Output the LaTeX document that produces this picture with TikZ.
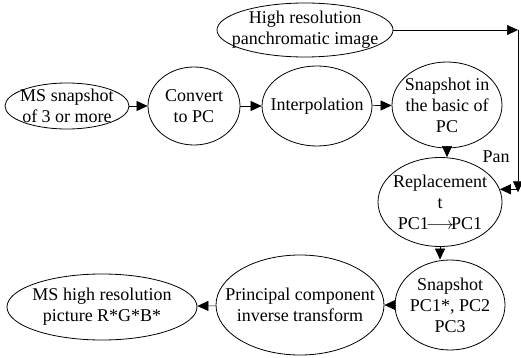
\documentclass[tikz,border=0pt]{standalone}
\usepackage{fontspec}
\setmainfont{Liberation Serif}
\newfontfamily\diagfont{Liberation Serif}
\usetikzlibrary{shapes.geometric,arrows.meta}

\begin{document}
\begin{tikzpicture}[
            x=1pt, y=-1pt,
            every node/.style={font=\diagfont\fontsize{18}{21}\selectfont},
            oval/.style={ellipse, draw, thick, inner sep=-20pt, align=center},
            arr/.style={-{Triangle[length=11pt,width=10pt]}, semithick}
        ]

            % 1. Fix the page size
            \useasboundingbox (0,0) rectangle (521,358);

            % 2. The ellipses of the first row
            \node[oval, minimum width=176, minimum height=54] (hires) at (305,30) {High resolution\\panchromatic image};
            \node[oval, minimum width=124, minimum height=46] (ms) at (67,106) {MS snapshot\\of 3 or more};
            \node[oval, minimum width=92, minimum height=78] (conv) at (194,106) {Convert\\to PC};
            \node[oval, minimum width=110, minimum height=80] (interp) at (317,106) {Interpolation};
            \node[oval, minimum width=110, minimum height=86] (snap) at (447,105) {Snapshot in\\the basic of\\PC};

            % 3. The ellipses on the right and in the bottom row
            \node[oval, minimum width=124, minimum height=89] (repl) at (440,202) {Replacement\\t\\PC1$\!\longrightarrow\!$PC1};
            \node[oval, minimum width=110, minimum height=90] (snapb) at (450,305) {Snapshot\\PC1*, PC2\\PC3};
            \node[oval, minimum width=168, minimum height=100] (inv) at (300,305) {Principal component\\inverse transform};
            \node[oval, minimum width=190, minimum height=66] (out) at (102,307) {MS high resolution\\picture R*G*B*};

            % 4. Label of the pan branch
            \node (pan) at (496,157) {Pan};

            % 5. Connectors
            \draw[arr] (ms) -- (conv);
            \draw[arr] (conv) -- (interp);
            \draw[arr] (interp) -- (snap);
            \draw[arr] (snap) -- (snap |- repl.north);
            \draw[arr] (repl) -- (repl |- snapb.north);
            \draw[arr] (snapb) -- (inv);
            \draw[arr] (inv) -- (out);

            % the pan line round the right edge
            \coordinate (c1) at (518,30);
            \coordinate (c2) at (c1 |- repl.12);
            \draw[arr] (hires) -- (c1);
            \draw[arr] (c1) -- ([yshift=-3pt]c2);
            \draw[arr] (c2) -- (repl.12);

        \end{tikzpicture}
\end{document}
